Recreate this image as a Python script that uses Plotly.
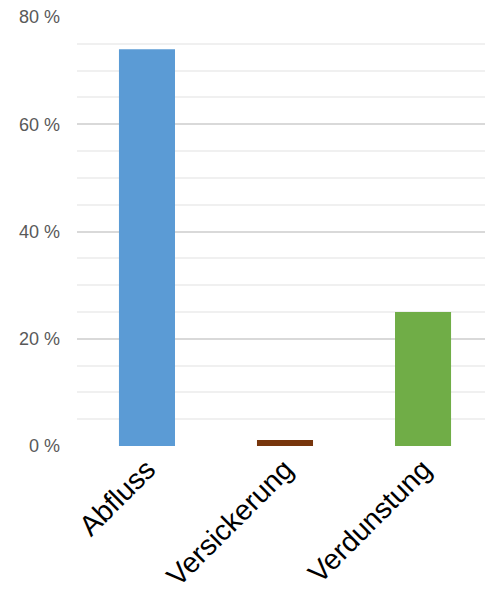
import plotly.graph_objects as go

# Wasserbilanz: Anteile in Prozent
categories = ["Abfluss", "Versickerung", "Verdunstung"]
shares = [74, 1.1, 25]
colors = ["#5b9bd5", "#77350c", "#70ad47"]
y_ticks = [0, 20, 40, 60, 80]
y_tick_labels = ["0 %", "20 %", "40 %", "60 %", "80 %"]

fig = go.Figure(
    go.Bar(
        x=categories,
        y=shares,
        marker=dict(color=colors, line=dict(width=0)),
        width=0.406,
        hoverinfo="x+y",
    )
)

fig.update_layout(
    width=485,
    height=595,
    margin=dict(l=77, r=0, t=17, b=149),
    paper_bgcolor="white",
    plot_bgcolor="white",
    showlegend=False,
    font=dict(family="Liberation Sans, Arial, sans-serif"),
)

fig.update_xaxes(
    type="category",
    range=[-0.507, 2.449],
    tickangle=-45,
    tickfont=dict(size=28.5, color="#000000"),
    showgrid=False,
    showline=False,
    ticks="",
    ticklabelstandoff=0,
    automargin=False,
)

fig.update_yaxes(
    range=[0, 80],
    tickmode="array",
    tickvals=y_ticks,
    ticktext=y_tick_labels,
    tickfont=dict(size=18, color="#595959"),
    showgrid=True,
    gridcolor="#d9d9d9",
    gridwidth=2,
    zeroline=False,
    showline=False,
    ticks="",
    ticklabelstandoff=16,
    automargin=False,
    minor=dict(dtick=5, showgrid=True, gridcolor="#f0f0f0", gridwidth=2),
)

fig.write_html("out.html")
